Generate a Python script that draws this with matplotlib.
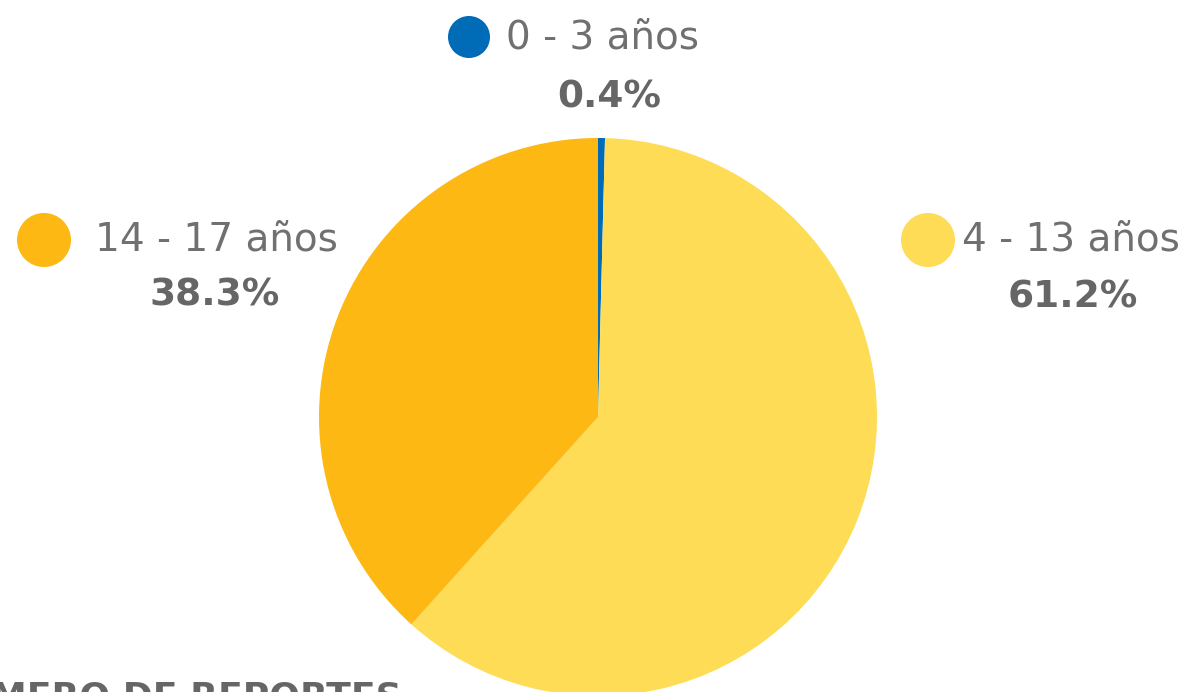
import matplotlib.pyplot as plt
from matplotlib.patches import Circle

# datos
grupos = ['0 - 3 años', '4 - 13 años', '14 - 17 años']
porcentajes = [0.4, 61.2, 38.3]
colores = ['#006BB6', '#FEDC56', '#FDB813']
titulo_inferior = 'NÚMERO DE REPORTES'

gris = '#666666'
W, H = 1192, 692
fig = plt.figure(figsize=(W / 100, H / 100), dpi=100)

# pastel: centro (598, 417) px, radio 279 px
cx, cy, r = 598, 417, 279
ax = fig.add_axes([(cx - r) / W, (H - cy - r) / H, 2 * r / W, 2 * r / H])
ax.pie(porcentajes, colors=colores, startangle=90, counterclock=False,
       radius=1, wedgeprops=dict(linewidth=0))
ax.set_xlim(-1, 1)
ax.set_ylim(-1, 1)
ax.set_aspect('equal')
ax.axis('off')

# capa para etiquetas en pixeles
ov = fig.add_axes([0, 0, 1, 1], facecolor='none')
ov.set_xlim(0, W)
ov.set_ylim(H, 0)
ov.axis('off')

# (circulo x, y, radio, texto x, porcentaje x, porcentaje y)
posiciones = [
    (469, 37, 21, 506, 609, 97),
    (928, 240, 27, 962, 1073, 298),
    (44, 240, 27, 95, 215, 295),
]
fuente = ['DejaVu Sans']
for g, p, c, (x0, y0, rr, tx, px, py) in zip(grupos, porcentajes, colores, posiciones):
    ov.add_patch(Circle((x0, y0), rr, color=c, lw=0))
    ov.text(tx, y0 + 1, g, fontsize=28, color='#707070', ha='left', va='center',
            family=fuente, fontweight='normal')
    ov.text(px, py, f'{p:.1f}%', fontsize=27, color=gris, ha='center', va='center',
            family=fuente, fontweight='bold')

ov.text(402, 681, titulo_inferior, fontsize=26, color=gris, ha='right', va='top',
        family=fuente, fontweight='bold')

fig.savefig('out.png', dpi=100)
